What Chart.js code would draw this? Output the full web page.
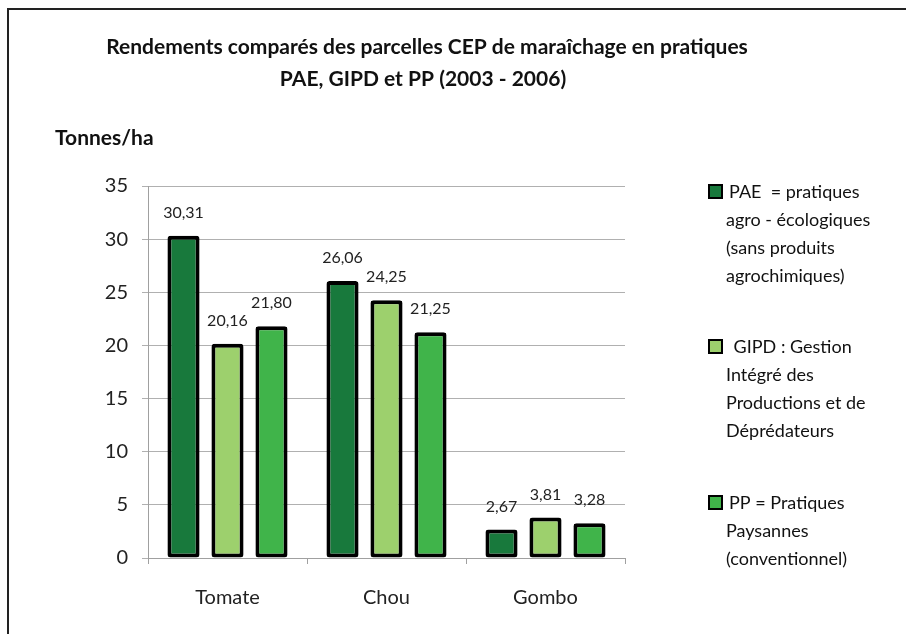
<!DOCTYPE html>
<html>
<head>
<meta charset="utf-8">
<script src="https://cdn.jsdelivr.net/npm/chart.js@4/dist/chart.umd.min.js"></script>
<style>
  html, body { margin: 0; padding: 0; background: #fff; }
  #wrap { width: 906px; height: 634px; }
</style>
</head>
<body>
<div id="wrap"><canvas id="chart" width="906" height="634"></canvas></div>
<script>
// Chart data
const categories = ['Tomate', 'Chou', 'Gombo'];
const paeValues = [30.31, 26.06, 2.67];
const gipdValues = [20.16, 24.25, 3.81];
const ppValues = [21.80, 21.25, 3.28];
const yTicks = [0, 5, 10, 15, 20, 25, 30, 35];

const titleLines = ['Rendements comparés des parcelles CEP de maraîchage en pratiques', 'PAE, GIPD et PP (2003 - 2006)'];
const yUnit = 'Tonnes/ha';
const paeLegend = ['PAE  = pratiques', 'agro - écologiques', '(sans produits', 'agrochimiques)'];
const gipdLegend = [' GIPD : Gestion', 'Intégré des', 'Productions et de', 'Déprédateurs'];
const ppLegend = ['PP = Pratiques', 'Paysannes', '(conventionnel)'];

const FONT = 'Lato, "Open Sans", sans-serif';

// Draws the frame, title, unit label, value labels and the legend
const decorations = {
    id: 'decorations',
    afterDraw(chart) {
        const ctx = chart.ctx;
        ctx.save();

        // frame (top and left edges only are visible)
        ctx.strokeStyle = '#222';
        ctx.lineWidth = 2;
        ctx.beginPath();
        ctx.moveTo(8, 640);
        ctx.lineTo(8, 9);
        ctx.lineTo(910, 9);
        ctx.stroke();

        // title
        ctx.fillStyle = '#111';
        ctx.textAlign = 'center';
        ctx.textBaseline = 'middle';
        ctx.font = 'bold 21px ' + FONT;
        ctx.fillText(titleLines[0], 427, 47);
        ctx.fillText(titleLines[1], 423, 79);

        // unit
        ctx.textAlign = 'left';
        ctx.font = 'bold 21px ' + FONT;
        ctx.fillText(yUnit, 55, 138);

        // value labels above bars
        ctx.textAlign = 'center';
        ctx.font = '16px ' + FONT;
        ctx.fillStyle = '#222';
        chart.data.datasets.forEach((ds, i) => {
            chart.getDatasetMeta(i).data.forEach((bar, j) => {
                const txt = ds.data[j].toFixed(2).replace('.', ',');
                ctx.fillText(txt, bar.x, bar.y - 23);
            });
        });

        // legend
        const tops = [192, 347, 503];
        ctx.font = '18px ' + FONT;
        ctx.textAlign = 'left';
        chart.data.datasets.forEach((ds, i) => {
            const y0 = tops[i];
            ctx.fillStyle = ds.backgroundColor;
            ctx.fillRect(709, y0 - 7, 13, 13);
            ctx.strokeStyle = '#000';
            ctx.lineWidth = 2;
            ctx.strokeRect(709, y0 - 7, 13, 13);
            ctx.fillStyle = '#111';
            ds.legendLines.forEach((line, k) => {
                ctx.fillText(line, k === 0 ? 729 : 726, y0 + k * 28);
            });
        });

        ctx.restore();
    }
};

const barStyle = {
    borderColor: '#000',
    borderWidth: 4,
    borderRadius: 3,
    borderSkipped: false,
    categoryPercentage: 0.83,
    barPercentage: 0.73
};

new Chart(document.getElementById('chart'), {
    type: 'bar',
    data: {
        labels: categories,
        datasets: [
            Object.assign({ label: 'PAE', data: paeValues, backgroundColor: '#18793c', legendLines: paeLegend }, barStyle),
            Object.assign({ label: 'GIPD', data: gipdValues, backgroundColor: '#9dd06d', legendLines: gipdLegend }, barStyle),
            Object.assign({ label: 'PP', data: ppValues, backgroundColor: '#40b44a', legendLines: ppLegend }, barStyle)
        ]
    },
    options: {
        responsive: false,
        animation: false,
        layout: { padding: { left: 10, top: 186, right: 281, bottom: 10 } },
        plugins: {
            legend: { display: false },
            title: { display: false },
            tooltip: { enabled: false }
        },
        scales: {
            x: {
                grid: { drawOnChartArea: false, drawTicks: true, tickLength: 6, color: '#a0a0a0', offset: true },
                border: { color: '#a0a0a0' },
                ticks: { color: '#222', font: { family: FONT, size: 20 }, padding: 22 },
                afterFit(scale) { scale.height = 634 - 558 - 10; }
            },
            y: {
                min: 0,
                max: 35,
                afterBuildTicks(scale) { scale.ticks = yTicks.map(v => ({ value: v })); },
                grid: { color: '#b0b0b0', tickLength: 6 },
                border: { color: '#a0a0a0' },
                ticks: { color: '#222', font: { family: FONT, size: 20 }, padding: 14 },
                afterFit(scale) { scale.width = 148 - 10; }
            }
        }
    },
    plugins: [decorations]
});
</script>
</body>
</html>
